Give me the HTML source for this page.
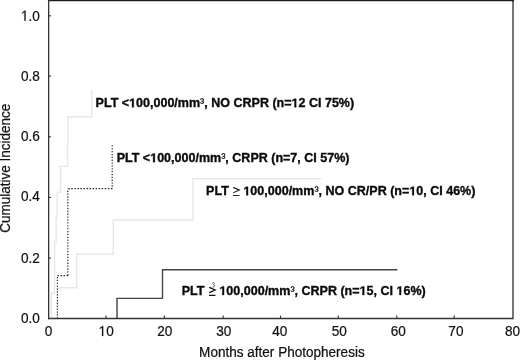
<!DOCTYPE html>
<html><head><meta charset="utf-8">
<style>
html,body{margin:0;padding:0;background:#fff;}
body{width:520px;height:360px;overflow:hidden;position:relative;}
svg{position:absolute;left:0;top:0;filter:grayscale(1);}
text{font-family:"Liberation Sans",sans-serif;}
.tk{font-size:13.6px;fill:#111;stroke:#111;stroke-width:0.22px;}
.ax{font-size:13.6px;fill:#111;stroke:#111;stroke-width:0.22px;}
.lb{font-size:12.52px;font-weight:bold;fill:#0a0a0a;stroke:#0a0a0a;stroke-width:0.35px;}
.one{fill-opacity:0;stroke-opacity:0;}
.sup{font-weight:normal;stroke-width:0.2px;}
</style></head><body>
<svg width="520" height="360" viewBox="0 0 520 360">
<g fill="none" stroke="#e7e7e7" stroke-width="1.4">
<path d="M51.3 318.5V293.2H54.6V242.3H56.1V216.9H57.2V192.2H60.5V166.4H67.6V141H68.1V116.7H91.7V89.8"/>
<path d="M57.6 318.5V287.8H76.7V254.2H113.3V220H193V178.8H321.2"/>
</g>
<g fill="none" stroke="#2a2a2a" stroke-width="1.2">
<path d="M57.4 318.5V275.4" stroke-dasharray="1.3 1.58"/>
<path d="M57.4 275.6H67.8" stroke-dasharray="1.5 1.54"/>
<path d="M67.8 275.4V188.7" stroke-dasharray="1.3 1.58"/>
<path d="M67.4 188.7H112.3" stroke-dasharray="1.5 1.54" stroke-dashoffset="-0.85"/>
<path d="M112.2 145.3V188.7" stroke-dasharray="1.3 1.56"/>
</g>
<path d="M117 318.5V298.4H162.5V269.8H397.3" fill="none" stroke="#444" stroke-width="1.4"/>
<rect x="512" y="0" width="2" height="319.2" fill="#777"/>
<line x1="47.9" y1="0.6" x2="514" y2="0.6" stroke="#1a1a1a" stroke-width="1.2"/>
<line x1="48.65" y1="0" x2="48.65" y2="319.2" stroke="#333" stroke-width="1.3"/>
<line x1="47.9" y1="318.5" x2="513" y2="318.5" stroke="#333" stroke-width="1.3"/>
<g stroke="#333" stroke-width="1.1">
<line x1="48.6" y1="15.8" x2="51" y2="15.8"/>
<line x1="48.6" y1="76.1" x2="51" y2="76.1"/>
<line x1="48.6" y1="136.8" x2="51" y2="136.8"/>
<line x1="48.6" y1="197.4" x2="51" y2="197.4"/>
<line x1="48.6" y1="258.1" x2="51" y2="258.1"/>
<line x1="106.0" y1="318" x2="106.0" y2="315.6"/>
<line x1="164.4" y1="318" x2="164.4" y2="315.6"/>
<line x1="223.2" y1="318" x2="223.2" y2="315.6"/>
<line x1="280.5" y1="318" x2="280.5" y2="315.6"/>
<line x1="338.3" y1="318" x2="338.3" y2="315.6"/>
<line x1="396.8" y1="318" x2="396.8" y2="315.6"/>
<line x1="454.2" y1="318" x2="454.2" y2="315.6"/>
</g>
<text class="tk" text-anchor="end" transform="translate(39.9 20.70) scale(1 1.05)"><tspan class="one">1</tspan>.0</text>
<text class="tk" text-anchor="end" transform="translate(39.9 81.00) scale(1 1.05)">0.8</text>
<text class="tk" text-anchor="end" transform="translate(39.9 140.70) scale(1 1.05)">0.6</text>
<text class="tk" text-anchor="end" transform="translate(39.9 201.30) scale(1 1.05)">0.4</text>
<text class="tk" text-anchor="end" transform="translate(39.9 262.50) scale(1 1.05)">0.2</text>
<text class="tk" text-anchor="end" transform="translate(39.9 323.40) scale(1 1.05)">0.0</text>
<text class="tk" text-anchor="middle" transform="translate(48.6 336) scale(1 1.05)">0</text>
<text class="tk" text-anchor="middle" transform="translate(106.15 336) scale(1 1.05)"><tspan class="one">1</tspan>0</text>
<text class="tk" text-anchor="middle" transform="translate(164.7 336) scale(1 1.05)">20</text>
<text class="tk" text-anchor="middle" transform="translate(223.8 336) scale(1 1.05)">30</text>
<text class="tk" text-anchor="middle" transform="translate(279.7 336) scale(1 1.05)">40</text>
<text class="tk" text-anchor="middle" transform="translate(339.2 336) scale(1 1.05)">50</text>
<text class="tk" text-anchor="middle" transform="translate(398.2 336) scale(1 1.05)">60</text>
<text class="tk" text-anchor="middle" transform="translate(455.9 336) scale(1 1.05)">70</text>
<text class="tk" text-anchor="middle" transform="translate(512.5 336) scale(1 1.05)">80</text>
<text class="ax" text-anchor="middle" transform="translate(281.9 356.6) scale(1 1.04)" style="font-size:13.55px">Months after Photopheresis</text>
<text class="ax" transform="translate(10.2 168.25) rotate(-90) scale(1 1.04)" text-anchor="middle" style="font-size:13.5px">Cumulative Incidence</text>
<text class="lb" x="95.6" y="107.3">PLT &lt;<tspan class="one">1</tspan>00,000/mm<tspan class="sup">³</tspan>, NO CRPR (n=<tspan class="one">1</tspan>2 CI 75%)</text>
<text class="lb" x="116.7" y="162.2">PLT &lt;<tspan class="one">1</tspan>00,000/mm<tspan class="sup">³</tspan>, CRPR (n=7, CI 57%)</text>
<text class="lb" x="206.1" y="195.3">PLT</text>
<path d="M233.2 187.4L239.4 190.1L233.2 192.8M233 195.5H239.6" fill="none" stroke="#2a2a2a" stroke-width="1.15"/>
<text class="lb" x="243.4" y="195.3"><tspan class="one">1</tspan>00,000/mm<tspan class="sup">³</tspan>, NO CR/PR (n=<tspan class="one">1</tspan>0, CI 46%)</text>
<text class="lb" x="181.7" y="295">PLT</text>
<path d="M209.2 287.3L215.2 290L209.2 292.7M209 295.4H215.4" fill="none" stroke="#111" stroke-width="1.3"/>
<path d="M212.3 283.0Q214.3 281.9 214.5 283.3Q214.6 284.4 213.4 284.7Q214.9 285.0 214.7 286.3Q214.3 287.5 212.6 287.1" fill="none" stroke="#6a6a6a" stroke-width="1.0"/>
<text class="lb" x="219.4" y="295"><tspan class="one">1</tspan>00,000/mm<tspan class="sup">³</tspan>, CRPR (n=<tspan class="one">1</tspan>5, CI <tspan class="one">1</tspan>6%)</text>
<path transform="matrix(1.0000 0.0000 0.0000 1.0500 39.900 20.700)" d="M-15.49 0.00 L-15.49 -8.21 L-17.60 -6.71 L-17.60 -7.84 L-15.39 -9.36 L-14.29 -9.36 L-14.29 0.00Z" fill="#111" stroke="#111" stroke-width="0.22"/>
<path transform="matrix(1.0000 0.0000 0.0000 1.0500 106.150 336.000)" d="M-4.15 0.00 L-4.15 -8.21 L-6.27 -6.71 L-6.27 -7.84 L-4.05 -9.36 L-2.95 -9.36 L-2.95 0.00Z" fill="#111" stroke="#111" stroke-width="0.22"/>
<path transform="matrix(1.0000 0.0000 0.0000 1.0000 0.000 0.000)" d="M132.02 107.30 L132.02 100.15 L129.96 101.44 L129.96 100.09 L132.11 98.69 L133.74 98.69 L133.74 107.30Z" fill="#0a0a0a" stroke="#0a0a0a" stroke-width="0.35"/>
<path transform="matrix(1.0000 0.0000 0.0000 1.0000 0.000 0.000)" d="M294.46 107.30 L294.46 100.15 L292.39 101.44 L292.39 100.09 L294.55 98.69 L296.18 98.69 L296.18 107.30Z" fill="#0a0a0a" stroke="#0a0a0a" stroke-width="0.35"/>
<path transform="matrix(1.0000 0.0000 0.0000 1.0000 0.000 0.000)" d="M153.12 162.20 L153.12 155.05 L151.06 156.34 L151.06 154.99 L153.21 153.59 L154.84 153.59 L154.84 162.20Z" fill="#0a0a0a" stroke="#0a0a0a" stroke-width="0.35"/>
<path transform="matrix(1.0000 0.0000 0.0000 1.0000 0.000 0.000)" d="M246.32 195.30 L246.32 188.15 L244.26 189.44 L244.26 188.09 L246.41 186.69 L248.04 186.69 L248.04 195.30Z" fill="#0a0a0a" stroke="#0a0a0a" stroke-width="0.35"/>
<path transform="matrix(1.0000 0.0000 0.0000 1.0000 0.000 0.000)" d="M412.23 195.30 L412.23 188.15 L410.16 189.44 L410.16 188.09 L412.32 186.69 L413.95 186.69 L413.95 195.30Z" fill="#0a0a0a" stroke="#0a0a0a" stroke-width="0.35"/>
<path transform="matrix(1.0000 0.0000 0.0000 1.0000 0.000 0.000)" d="M222.32 295.00 L222.32 287.85 L220.26 289.14 L220.26 287.79 L222.41 286.39 L224.04 286.39 L224.04 295.00Z" fill="#0a0a0a" stroke="#0a0a0a" stroke-width="0.35"/>
<path transform="matrix(1.0000 0.0000 0.0000 1.0000 0.000 0.000)" d="M362.51 295.00 L362.51 287.85 L360.44 289.14 L360.44 287.79 L362.60 286.39 L364.23 286.39 L364.23 295.00Z" fill="#0a0a0a" stroke="#0a0a0a" stroke-width="0.35"/>
<path transform="matrix(1.0000 0.0000 0.0000 1.0000 0.000 0.000)" d="M399.40 295.00 L399.40 287.85 L397.33 289.14 L397.33 287.79 L399.49 286.39 L401.12 286.39 L401.12 295.00Z" fill="#0a0a0a" stroke="#0a0a0a" stroke-width="0.35"/>
</svg>
</body></html>
